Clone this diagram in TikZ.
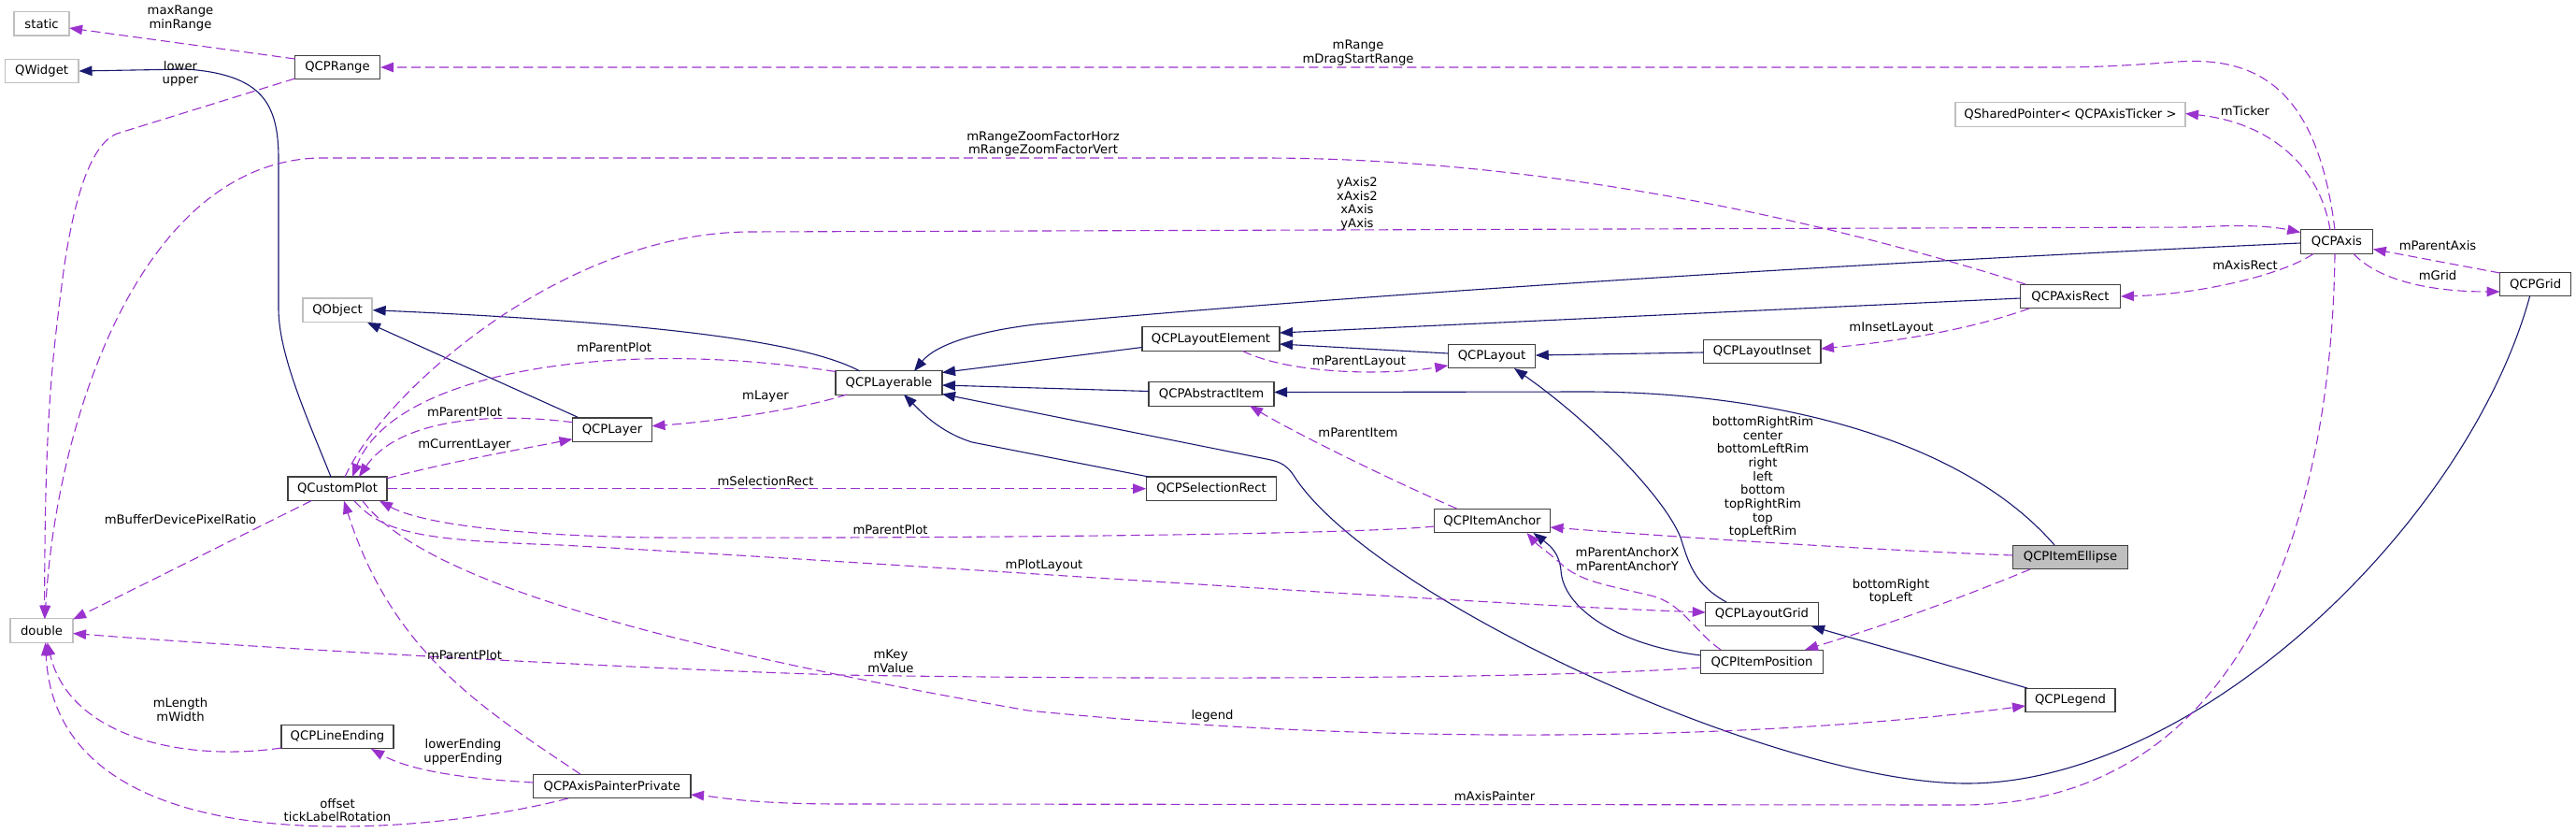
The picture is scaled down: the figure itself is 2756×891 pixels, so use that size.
\documentclass[tikz,border=0pt]{standalone}
\usepackage{fontspec}
\setmainfont{DejaVu Sans}
\usetikzlibrary{arrows.meta,calc}
\definecolor{inhc}{HTML}{191970}
\definecolor{usec}{HTML}{9A32CD}
\definecolor{graybd}{HTML}{BFBFBF}
\definecolor{bdc}{HTML}{404040}
\begin{document}
\begin{tikzpicture}[x=1pt,y=-1pt,
  font=\fontsize{13.2}{14.7}\selectfont,
  cls/.style={draw=bdc, line width=1.3pt, fill=white, minimum height=25.5pt, inner sep=0pt},
  ext/.style={cls, draw=graybd},
  inh/.style={draw=inhc, line width=1.1pt, -{Triangle[length=14pt,width=10.5pt]}},
  use/.style={draw=usec, line width=1.1pt, dash pattern=on 10pt off 5pt, -{Triangle[length=14pt,width=10.5pt]}},
  lbl/.style={align=center, inner sep=0pt}]
\useasboundingbox (0,0) rectangle (2756,891);
% nodes
\node[ext, minimum width=59pt] (static) at (44.6,25.3) {static};
\node[ext, minimum width=78.5pt] (QWidget) at (44.6,76) {QWidget};
\node[cls, minimum width=91pt] (QCPRange) at (361,72) {QCPRange};
\node[ext, minimum width=74pt] (QObject) at (361,331.7) {QObject};
\node[cls, minimum width=106pt] (QCustomPlot) at (361,522.7) {QCustomPlot};
\node[ext, minimum width=67pt] (double) at (44.6,674.5) {double};
\node[cls, minimum width=120pt] (QCPLineEnding) at (361,788) {QCPLineEnding};
\node[cls, minimum width=168.5pt] (QCPAxisPainterPrivate) at (654.8,841) {QCPAxisPainterPrivate};
\node[cls, minimum width=85pt] (QCPLayer) at (655,459.7) {QCPLayer};
\node[cls, minimum width=114pt] (QCPLayerable) at (951,409.5) {QCPLayerable};
\node[cls, minimum width=138.5pt] (QCPSelectionRect) at (1296,522.7) {QCPSelectionRect};
\node[cls, minimum width=147pt] (QCPLayoutElement) at (1295.5,362.5) {QCPLayoutElement};
\node[cls, minimum width=134pt] (QCPAbstractItem) at (1296,421.5) {QCPAbstractItem};
\node[cls, minimum width=93.5pt] (QCPLayout) at (1596,381) {QCPLayout};
\node[cls, minimum width=125.4pt] (QCPLayoutInset) at (1885.3,376) {QCPLayoutInset};
\node[cls, minimum width=124pt] (QCPItemAnchor) at (1596.5,557) {QCPItemAnchor};
\node[cls, minimum width=120.5pt] (QCPLayoutGrid) at (1885,657) {QCPLayoutGrid};
\node[cls, minimum width=131pt] (QCPItemPosition) at (1885,708) {QCPItemPosition};
\node[ext, minimum width=246pt] (QSharedPointer) at (2215,122.5) {QSharedPointer< QCPAxisTicker >};
\node[cls, minimum width=77.6pt] (QCPAxis) at (2500,258.5) {QCPAxis};
\node[cls, minimum width=106.4pt] (QCPAxisRect) at (2215,317) {QCPAxisRect};
\node[cls, minimum width=76pt] (QCPGrid) at (2712.6,304) {QCPGrid};
\node[cls, minimum width=123.5pt, fill=graybd] (QCPItemEllipse) at (2215,596) {QCPItemEllipse};
\node[cls, minimum width=96pt] (QCPLegend) at (2215,749) {QCPLegend};
% inheritance
\draw[inh] ($(QCustomPlot)+(-7,-12.7)$) .. controls (330,450) and (298,380) .. (298,330) -- (298,170) .. controls (298,110) and (280,80) .. (200,74) -- (QWidget.east);
\draw[inh] ($(QCPLayer)+(-37,-13.5)$) -- ($(QObject)+(32,13.3)$);
\draw[inh] ($(QCPLayerable)+(-31,-12.5)$) .. controls (860,365) and (700,345) .. (QObject.east);
\draw[inh] ($(QCPLayoutElement)+(-73.5,9)$) -- ($(QCPLayerable)+(57,-11)$);
\draw[inh] ($(QCPAbstractItem)+(-67,-3)$) -- ($(QCPLayerable)+(57,2.5)$);
\draw[inh] ($(QCPSelectionRect)+(-67,-12.7)$) -- (1040,473) .. controls (1005,462) and (985,440) .. ($(QCPLayerable)+(16,12.5)$);
\draw[inh] ($(QCPItemEllipse)+(-17,-13)$) .. controls (2100,470) and (1900,420) .. (1700,419) -- ($(QCPAbstractItem)+(67,-2)$);
\draw[inh] ($(QCPAxisRect)+(-53.2,2)$) -- ($(QCPLayoutElement)+(73.5,-6.5)$);
\draw[inh] ($(QCPLayout)+(-46.75,-3)$) -- ($(QCPLayoutElement)+(73.5,5.5)$);
\draw[inh] ($(QCPLayoutInset)+(-62.7,1)$) -- ($(QCPLayout)+(46.75,-1)$);
\draw[inh] ($(QCPLayoutGrid)+(-38,-13)$) .. controls (1812,625) and (1806,600) .. (1798,575) .. controls (1780,530) and (1700,450) .. ($(QCPLayout)+(24,13)$);
\draw[inh] ($(QCPItemPosition)+(-65.5,-7)$) .. controls (1730,690) and (1672,650) .. (1670,610) .. controls (1668,592) and (1660,585) .. ($(QCPItemAnchor)+(44,13)$);
\draw[inh] ($(QCPLegend)+(-46,-13)$) -- ($(QCPLayoutGrid)+(53,13)$);
\draw[inh] ($(QCPAxis)+(-38.8,1.5)$) .. controls (1900,285) and (1400,320) .. (1110,346.7) .. controls (1040,355) and (1000,370) .. ($(QCPLayerable)+(27,-12.5)$);
\draw[inh] ($(QCPGrid)+(-6,12.7)$) .. controls (2640,560) and (2350,838) .. (2104,838) .. controls (1900,838) and (1470,640) .. (1385,510) .. controls (1375,494) and (1365,493) .. (1350,490) -- ($(QCPLayerable)+(57,12)$);
% usage
\draw[use] ($(QCPRange)+(-45.5,-9)$) -- ($(static)+(29.5,4.7)$);
\draw[use] ($(QCPRange)+(-45.5,12)$) -- (125,143) .. controls (95,155) and (78,220) .. (68,290) .. controls (55,390) and (48,450) .. ($(double)+(3,-12.8)$);
\draw[use] ($(QCPAxis)+(-2,-12.5)$) .. controls (2480,100) and (2420,60) .. (2330,66) .. controls (2290,69) and (2250,72) .. (2200,72) -- (QCPRange.east);
\draw[use] ($(QCPAxisRect)+(-48,-13)$) .. controls (1950,235) and (1650,169) .. (1350,169) -- (340,169) .. controls (150,175) and (60,450) .. ($(double)+(3.5,-12.8)$);
\draw[use] ($(QCustomPlot)+(-28,13)$) -- ($(double)+(33.5,-12)$);
\draw[use] ($(QCPItemPosition)+(-65.5,6)$) .. controls (1650,727) and (1200,727) .. (900,722) .. controls (700,716) and (300,695) .. ($(double)+(33.5,3)$);
\draw[use] ($(QCPAxisPainterPrivate)+(-47,13)$) .. controls (450,895) and (60,930) .. ($(double)+(4,12.7)$);
\draw[use] ($(QCPLineEnding)+(-60,12)$) .. controls (200,815) and (75,790) .. ($(double)+(6,12.7)$);
\draw[use] ($(QCPAxisPainterPrivate)+(-84.25,-4)$) .. controls (500,833) and (440,825) .. ($(QCPLineEnding)+(36,13)$);
\draw[use] ($(QCPAxisPainterPrivate)+(-34,-13)$) .. controls (520,760) and (420,700) .. ($(QCustomPlot)+(7,13)$);
\draw[use] ($(QCustomPlot)+(53,-11)$) .. controls (480,494) and (560,480) .. ($(QCPLayer)+(-42.5,10)$);
\draw[use] ($(QCPLayer)+(-42.5,-8)$) .. controls (520,440) and (425,450) .. ($(QCustomPlot)+(23,-12.7)$);
\draw[use] ($(QCPLayerable)+(-57,-12)$) .. controls (650,360) and (420,400) .. ($(QCustomPlot)+(16,-12.7)$);
\draw[use] ($(QCPLayerable)+(-45,12.5)$) .. controls (850,440) and (750,452) .. ($(QCPLayer)+(42.5,-4)$);
\draw[use] ($(QCPItemAnchor)+(-62,6)$) .. controls (1450,572) and (1000,576) .. (700,575) .. controls (550,573) and (450,560) .. ($(QCustomPlot)+(45,13)$);
\draw[use] ($(QCPItemAnchor)+(-38,-13)$) .. controls (1480,510) and (1380,460) .. ($(QCPAbstractItem)+(41,12.5)$);
\draw[use] (QCustomPlot.east) -- (QCPSelectionRect.west);
\draw[use] ($(QCustomPlot)+(18,13)$) .. controls (410,570) and (450,578) .. (600,583) .. controls (1000,605) and (1550,645) .. ($(QCPLayoutGrid)+(-60.25,-2)$);
\draw[use] ($(QCustomPlot)+(27,13)$) .. controls (450,620) and (700,690) .. (1100,760) .. controls (1500,800) and (1900,790) .. ($(QCPLegend)+(-48,6)$);
\draw[use] ($(QCPItemEllipse)+(-61.75,-2)$) .. controls (2000,588) and (1800,575) .. ($(QCPItemAnchor)+(62,7)$);
\draw[use] ($(QCPItemEllipse)+(-43,13)$) .. controls (2060,655) and (1980,680) .. ($(QCPItemPosition)+(46,-13)$);
\draw[use] ($(QCPItemPosition)+(-44,-13)$) .. controls (1812,675) and (1800,645) .. (1766,637) .. controls (1720,626) and (1690,622) .. (1670,603) .. controls (1658,592) and (1645,583) .. ($(QCPItemAnchor)+(37,13)$);
\draw[use] ($(QCPLayoutElement)+(34,13)$) .. controls (1380,400) and (1480,402) .. ($(QCPLayout)+(-46.75,10)$);
\draw[use] ($(QCPAxisRect)+(-44,13)$) .. controls (2100,355) and (2020,366) .. ($(QCPLayoutInset)+(62.7,-3)$);
\draw[use] ($(QCPAxis)+(-25,13)$) .. controls (2440,295) and (2350,315) .. (QCPAxisRect.east);
\draw[use] ($(QCPGrid)+(-38,-12)$) -- ($(QCPAxis)+(38.8,8)$);
\draw[use] ($(QCPAxis)+(18,13)$) .. controls (2545,300) and (2600,312) .. ($(QCPGrid)+(-38,8)$);
\draw[use] ($(QCPAxis)+(-7,-12.5)$) .. controls (2480,170) and (2420,130) .. ($(QSharedPointer)+(123,-1)$);
\draw[use] ($(QCPAxis)+(-2,13)$) .. controls (2495,520) and (2420,860) .. (2100,861) -- (900,860) .. controls (800,860) and (765,852) .. ($(QCPAxisPainterPrivate)+(84.25,9)$);
\draw[use] ($(QCustomPlot)+(8,-12.7)$) .. controls (410,420) and (600,250) .. (800,248) -- (2350,243) .. controls (2400,240) and (2430,242) .. ($(QCPAxis)+(-38.8,-10)$);
% labels
\node[lbl] (l1) at (193,19.5) {maxRange\\minRange};
\node[lbl] (l2) at (193,79) {lower\\upper};
\node[lbl] (l3) at (1453,56.5) {mRange\\mDragStartRange};
\node[lbl] (l4) at (1116,154) {mRangeZoomFactorHorz\\mRangeZoomFactorVert};
\node[lbl] (l5) at (1452,218) {yAxis2\\xAxis2\\xAxis\\yAxis};
\node[lbl] (l6) at (2402,119) {mTicker};
\node[lbl] (l7) at (2608,263) {mParentAxis};
\node[lbl] (l8) at (2402,284) {mAxisRect};
\node[lbl] (l9) at (2608,295) {mGrid};
\node[lbl] (l10) at (2023.5,351) {mInsetLayout};
\node[lbl] (l11) at (1454,387) {mParentLayout};
\node[lbl] (l12) at (657,372) {mParentPlot};
\node[lbl] (l13) at (819,424) {mLayer};
\node[lbl] (l14) at (497,441) {mParentPlot};
\node[lbl] (l15) at (497,476) {mCurrentLayer};
\node[lbl] (l16) at (819,515) {mSelectionRect};
\node[lbl] (l17) at (193,556) {mBufferDevicePixelRatio};
\node[lbl] (l18) at (1453,463) {mParentItem};
\node[lbl] (l19) at (1886,510.5) {bottomRightRim\\center\\bottomLeftRim\\right\\left\\bottom\\topRightRim\\top\\topLeftRim};
\node[lbl] (l20) at (952.5,567) {mParentPlot};
\node[lbl] (l21) at (1117,605) {mPlotLayout};
\node[lbl] (l22) at (1741,598) {mParentAnchorX\\mParentAnchorY};
\node[lbl] (l23) at (2023,633) {bottomRight\\topLeft};
\node[lbl] (l24) at (497,701) {mParentPlot};
\node[lbl] (l25) at (953,707.5) {mKey\\mValue};
\node[lbl] (l26) at (193,759) {mLength\\mWidth};
\node[lbl] (l27) at (1297,766) {legend};
\node[lbl] (l28) at (495.5,804.5) {lowerEnding\\upperEnding};
\node[lbl] (l29) at (1599,852) {mAxisPainter};
\node[lbl] (l30) at (361,866.5) {offset\\tickLabelRotation};
\end{tikzpicture}
\end{document}
